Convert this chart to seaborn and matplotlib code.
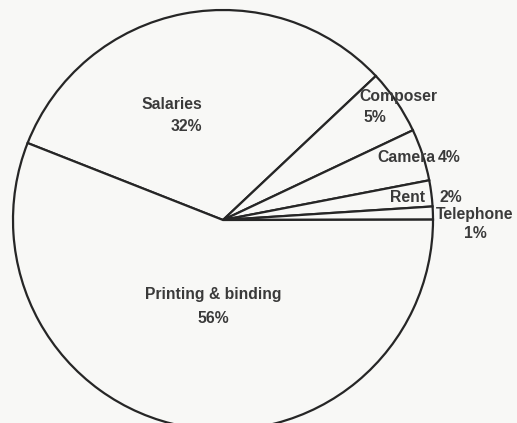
import matplotlib
matplotlib.use("Agg")
import matplotlib.pyplot as plt
import seaborn as sns

# slice data, clockwise from the Salaries/Printing boundary
categories = ["Salaries", "Composer", "Camera", "Rent", "Telephone", "Printing & binding"]
shares = [32, 5, 4, 2, 1, 56]

sns.set_theme(style="white")
plt.rcParams['font.family'] = ['Liberation Sans', 'DejaVu Sans']

bg = '#f8f8f6'
ink = '#262626'
txt = '#3a3a3a'

fig = plt.figure(figsize=(5.17, 4.23), dpi=100, facecolor=bg)
# pie of radius 1 placed in pixels: centre (223, 220), radius 210
ax = fig.add_axes([13 / 517, (423 - 430) / 423, 420 / 517, 420 / 423])
ax.set_facecolor(bg)

ax.pie(
    shares,
    startangle=158.5,
    counterclock=False,
    colors=[bg] * len(shares),
    wedgeprops={"edgecolor": ink, "linewidth": 1.6},
)
ax.set_xlim(-1, 1)
ax.set_ylim(-1, 1)
ax.set_aspect('auto')
ax.axis('off')

# labels as on the original drawing
fs = 11.3
kw = dict(fontsize=fs, color=txt, fontweight='bold', va='center')
ax.text(-0.10, 0.552, "Salaries", ha='right', **kw)
ax.text(-0.10, 0.443, "32%", ha='right', **kw)
ax.text(0.648, 0.586, "Composer", ha='left', **kw)
ax.text(0.667, 0.490, "5%", ha='left', **kw)
ax.text(0.733, 0.300, "Camera", ha='left', **kw)
ax.text(1.024, 0.300, "4%", ha='left', **kw)
ax.text(0.795, 0.105, "Rent", ha='left', **kw)
ax.text(1.029, 0.105, "2%", ha='left', **kw)
ax.text(1.20, 0.024, "Telephone", ha='center', **kw)
ax.text(1.20, -0.062, "1%", ha='center', **kw)
ax.text(-0.048, -0.357, "Printing & binding", ha='center', **kw)
ax.text(-0.048, -0.471, "56%", ha='center', **kw)

fig.savefig("out.png", dpi=100, facecolor=bg)
